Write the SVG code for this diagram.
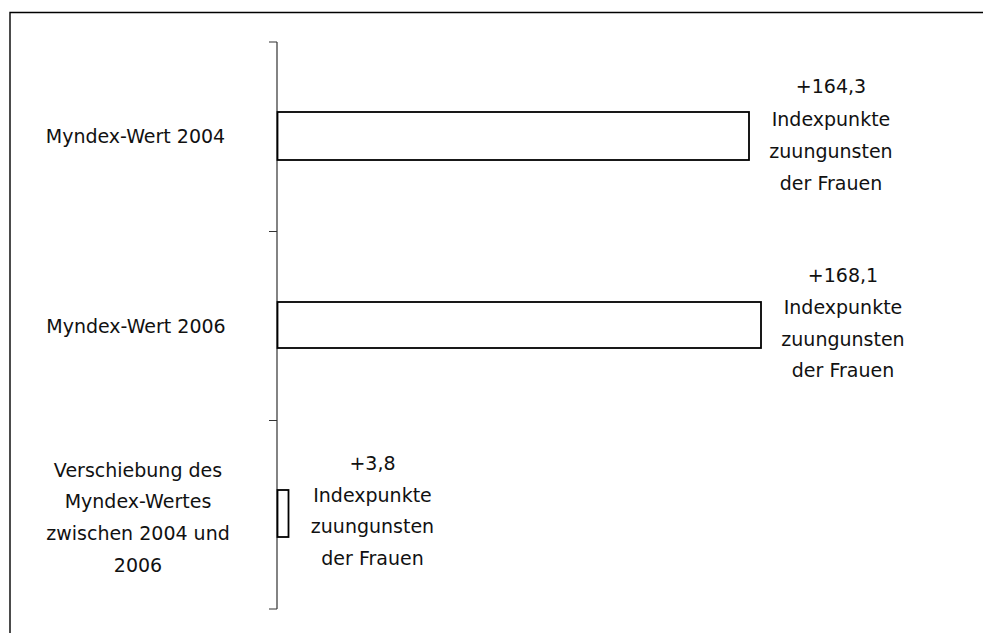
<svg xmlns="http://www.w3.org/2000/svg" width="983" height="633" viewBox="0 0 983 633">
<style>
text{font-family:"DejaVu Sans","Liberation Sans",sans-serif;font-size:19px;fill:#111;text-anchor:middle}
.bar{fill:#fff;stroke:#000;stroke-width:1.8}
.ax{stroke:#333;stroke-width:1.2;fill:none}
</style>
<rect width="983" height="633" fill="#fff"/>
<path d="M10,633 V12.5 H983" fill="none" stroke="#000" stroke-width="1.4"/>
<g id="axis">
<path class="ax" d="M277,42 V609 M269,42 H277 M269,231.5 H277 M269,420.5 H277 M269,609 H277"/>
</g>
<g id="bar-2004">
<rect class="bar" x="277.5" y="112" width="471.5" height="48"/>
<text x="135.5" y="143">Myndex-Wert 2004</text>
<text x="831" y="93">+164,3</text>
<text x="831" y="125.5">Indexpunkte</text>
<text x="831" y="157.5">zuungunsten</text>
<text x="831" y="189.5">der Frauen</text>
</g>
<g id="bar-2006">
<rect class="bar" x="277.5" y="302" width="483.5" height="46"/>
<text x="136" y="333">Myndex-Wert 2006</text>
<text x="843" y="281.5">+168,1</text>
<text x="843" y="313.5">Indexpunkte</text>
<text x="843" y="345.5">zuungunsten</text>
<text x="843" y="377">der Frauen</text>
</g>
<g id="bar-diff">
<rect class="bar" x="277.5" y="490" width="11" height="47"/>
<text x="138" y="476.5">Verschiebung des</text>
<text x="138" y="508">Myndex-Wertes</text>
<text x="138" y="540">zwischen 2004 und</text>
<text x="138" y="571.5">2006</text>
<text x="372.5" y="470">+3,8</text>
<text x="372.5" y="501.5">Indexpunkte</text>
<text x="372.5" y="533">zuungunsten</text>
<text x="372.5" y="565">der Frauen</text>
</g>
</svg>
